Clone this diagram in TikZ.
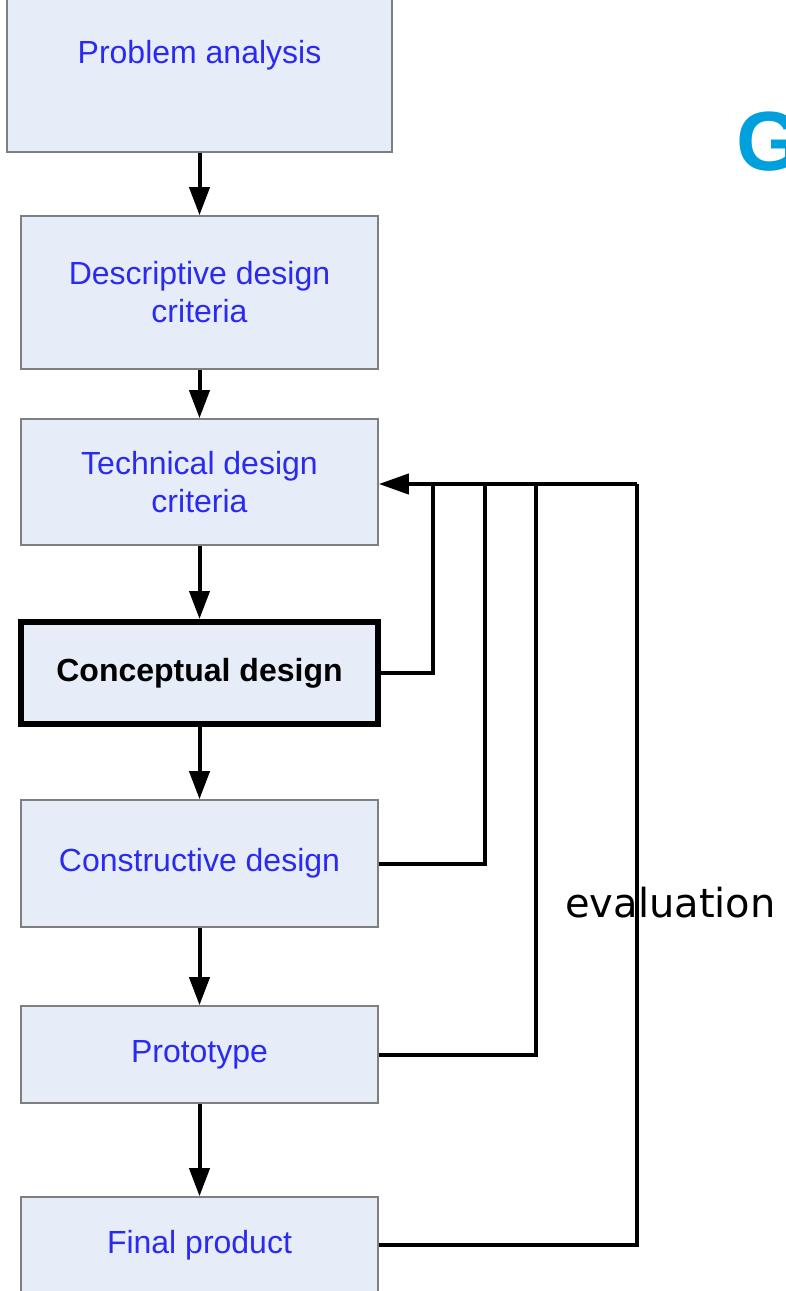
\documentclass[tikz,border=0pt]{standalone}
\usepackage{fontspec}
\setmainfont{Liberation Sans}
\newfontfamily\evalfont{DejaVu Sans}
\usetikzlibrary{arrows.meta}
\definecolor{boxfill}{HTML}{E6ECF8}
\definecolor{boxline}{HTML}{7F7F7F}
\definecolor{txtblue}{HTML}{2B2BF0}
\definecolor{gcyan}{HTML}{00A0DC}
\tikzset{
  stepbox/.style={draw=boxline, line width=1.6pt, fill=boxfill, rectangle, inner sep=0pt,
    minimum width=357pt, align=center, text=txtblue,
    font=\fontsize{32pt}{38pt}\selectfont},
  boldbox/.style={stepbox, draw=black, line width=6pt, text=black,
    font=\fontsize{32pt}{38pt}\selectfont\bfseries},
  flow/.style={line width=4pt, -{Triangle[length=28pt,width=20pt]}},
  fb/.style={line width=4pt, line join=miter},
  fbarr/.style={fb, -{Triangle[length=30pt,width=20pt]}}
}
\begin{document}
\begin{tikzpicture}[x=1pt,y=-1pt]
\useasboundingbox (0,0) rectangle (785,1291);
% boxes
\node[stepbox, minimum width=385pt, minimum height=155pt] (pa) at (199.5,74.5) {};
\node[text=txtblue, font=\fontsize{32pt}{38pt}\selectfont, inner sep=0pt] (pat) at (199.5,55) {Problem analysis};
\node[stepbox, minimum height=153pt] (ddc) at (199.5,292.5) {Descriptive design\\criteria};
\node[stepbox, minimum height=126pt] (tdc) at (199.5,482) {Technical design\\criteria};
\node[boldbox, minimum height=102pt] (cd) at (199.5,673) {Conceptual design};
\node[stepbox, minimum height=127pt] (csd) at (199.5,863.5) {Constructive design};
\node[stepbox, minimum height=97pt] (pr) at (199.5,1054.5) {Prototype};
\node[stepbox, minimum height=96pt] (fp) at (199.5,1245) {Final product};
% flow arrows
\draw[flow] (pa.south) -- (ddc.north);
\draw[flow] (ddc.south) -- (tdc.north);
\draw[flow] (tdc.south) -- (cd.north);
\draw[flow] (cd.south) -- (csd.north);
\draw[flow] (csd.south) -- (pr.north);
\draw[flow] (pr.south) -- (fp.north);
% feedback
\coordinate (c1) at (433,484);
\coordinate (c2) at (485,484);
\coordinate (c3) at (536,484);
\coordinate (c4) at (637,484);
\draw[fb] (cd.east) -| (c1);
\draw[fb] (csd.east) -| (c2);
\draw[fb] (pr.east) -| (c3);
\draw[fb] (fp.east) -| (c4);
\draw[fbarr] (c4) -- (c4 -| tdc.east);
% labels
\node[anchor=base west, inner sep=0pt, font=\evalfont\fontsize{40pt}{48pt}\selectfont] (ev) at (565,917) {evaluation};
\node[anchor=base west, inner sep=0pt, text=gcyan, font=\fontsize{84pt}{90pt}\selectfont\bfseries] (g) at (736,170) {G};
\end{tikzpicture}
\end{document}
